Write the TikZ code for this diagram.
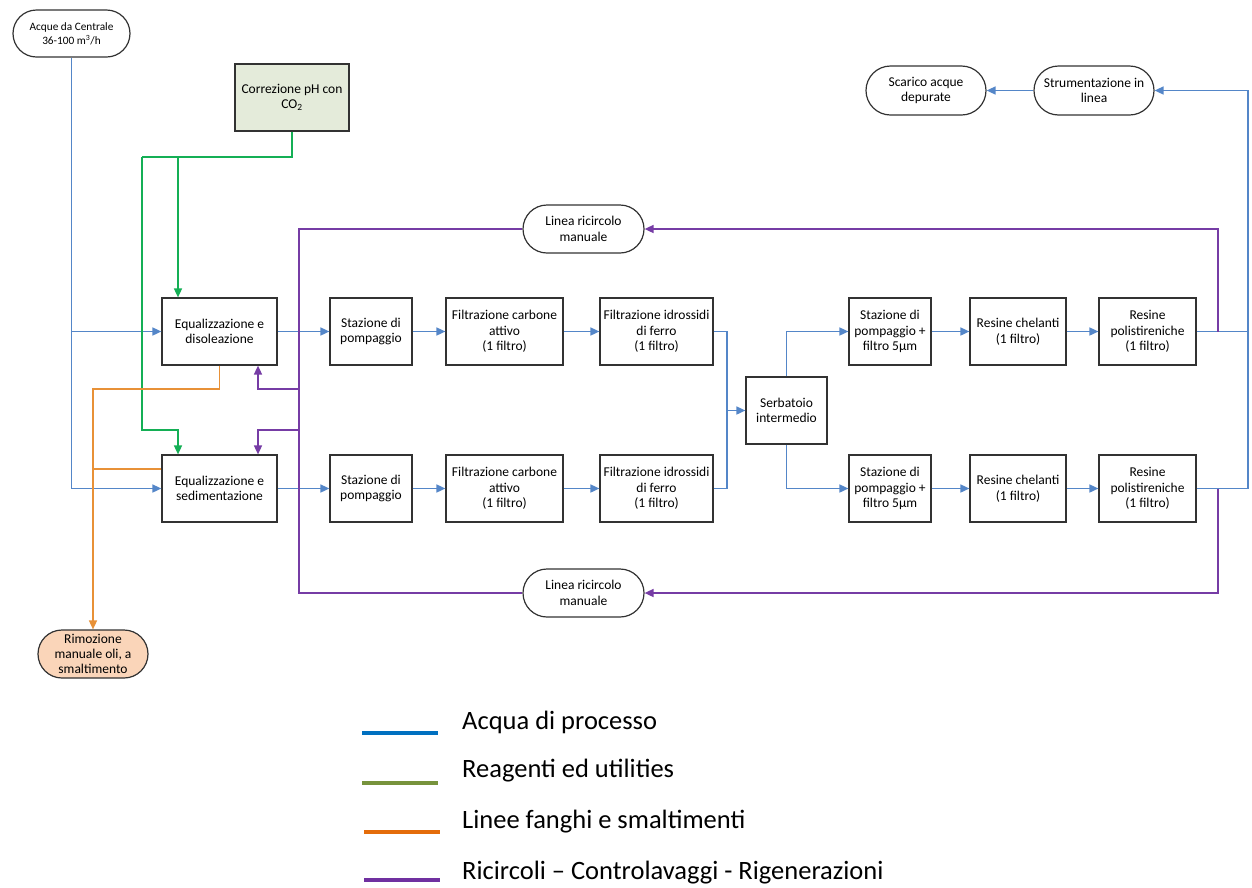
\documentclass[tikz,border=0pt]{standalone}
\usepackage{fontspec}
\setmainfont{Carlito}
\usetikzlibrary{arrows.meta,shapes.misc}
\definecolor{cblu}{RGB}{84,134,200}
\definecolor{cgrn}{RGB}{20,175,85}
\definecolor{corg}{RGB}{232,145,55}
\definecolor{cpur}{RGB}{118,60,165}
\definecolor{lblu}{RGB}{0,112,192}
\definecolor{lgrn}{RGB}{119,147,60}
\definecolor{lorg}{RGB}{228,108,10}
\definecolor{lpur}{RGB}{112,48,160}
\definecolor{fgrn}{RGB}{228,235,218}
\definecolor{forg}{RGB}{250,213,185}
\definecolor{edge}{RGB}{50,50,50}
\begin{document}
\begin{tikzpicture}[x=1pt,y=-1pt,
  box/.style={draw=edge,line width=1.2pt,minimum height=67,align=center,
    font=\fontsize{13.5}{15.5}\selectfont,inner sep=1pt},
  pill/.style={rounded rectangle,draw=edge,line width=1.2pt,align=center,
    font=\fontsize{13.5}{15.5}\selectfont,inner sep=1pt,minimum height=48},
  arr/.style={-{Triangle[length=9pt,width=8pt]}},
  ln/.style={line width=1.6pt},
  blu/.style={ln,draw=cblu,color=cblu},
  grn/.style={ln,draw=cgrn,color=cgrn},
  org/.style={ln,draw=corg,color=corg},
  pur/.style={ln,draw=cpur,color=cpur},
  leg/.style={line width=3.5pt},
  legtxt/.style={anchor=base west,font=\fontsize{26.5}{30}\selectfont,inner sep=0pt}
]
\useasboundingbox (0,0) rectangle (1252,887);

% nodes
\node[pill,minimum width=119,minimum height=47,font=\fontsize{11.3}{14}\selectfont] (acq) at (71.5,33.5) {Acque da Centrale\\36-100 m\textsuperscript{3}/h};
\node[box,fill=fgrn,minimum width=114] (cor) at (292,97.5) {Correzione pH con\\CO\textsubscript{2}};
\node[box,minimum width=115] (eqd) at (219.5,331.5) {Equalizzazione e\\disoleazione};
\node[box,minimum width=115] (eqs) at (219.5,488.5) {Equalizzazione e\\sedimentazione};
\node[box,minimum width=82] (st1) at (371,331.5) {Stazione di\\pompaggio};
\node[box,minimum width=82] (st2) at (371,488.5) {Stazione di\\pompaggio};
\node[box,minimum width=117] (fc1) at (504.5,331.5) {Filtrazione carbone\\attivo\\(1 filtro)};
\node[box,minimum width=117] (fc2) at (504.5,488.5) {Filtrazione carbone\\attivo\\(1 filtro)};
\node[box,minimum width=113] (fi1) at (656.5,331.5) {Filtrazione idrossidi\\di ferro\\(1 filtro)};
\node[box,minimum width=113] (fi2) at (656.5,488.5) {Filtrazione idrossidi\\di ferro\\(1 filtro)};
\node[box,minimum width=81] (serb) at (786.5,410.5) {Serbatoio\\intermedio};
\node[box,minimum width=82] (sp1) at (890,331.5) {Stazione di\\pompaggio +\\filtro 5µm};
\node[box,minimum width=82] (sp2) at (890,488.5) {Stazione di\\pompaggio +\\filtro 5µm};
\node[box,minimum width=96] (rc1) at (1018,331.5) {Resine chelanti\\(1 filtro)};
\node[box,minimum width=96] (rc2) at (1018,488.5) {Resine chelanti\\(1 filtro)};
\node[box,minimum width=97] (rp1) at (1147.5,331.5) {Resine\\polistireniche\\(1 filtro)};
\node[box,minimum width=97] (rp2) at (1147.5,488.5) {Resine\\polistireniche\\(1 filtro)};
\node[pill,minimum width=122,minimum height=49] (sca) at (926,90.5) {Scarico acque\\depurate};
\node[pill,minimum width=122,minimum height=49] (str) at (1094,90.5) {Strumentazione in\\linea};
\node[pill,minimum width=123] (lr1) at (583.5,229) {Linea ricircolo\\manuale};
\node[pill,minimum width=123] (lr2) at (583.5,593) {Linea ricircolo\\manuale};
\node[pill,fill=forg,minimum width=112,font=\fontsize{13.5}{15}\selectfont] (rim) at (93,654) {Rimozione\\manuale oli, a\\smaltimento};

% coordinates
\coordinate (j1) at (727,410.5);
\coordinate (r1) at (1248,90.5);
\coordinate (g1) at (142,157);
\coordinate (gx) at (178,157);
\coordinate (g2) at (142,430);
\coordinate (o1) at (93,389);
\coordinate (pt) at (1218,331.5);
\coordinate (pb) at (1218,488.5);
\coordinate (p3) at (299,593);
\coordinate (q1a) at (299,389);
\coordinate (q1) at (258,389);
\coordinate (q2a) at (299,430);
\coordinate (q2) at (258,430);

% blue process lines
\draw[blu,arr] (acq.south) |- (eqs.west);
\draw[blu,arr] (acq.south |- eqd.west) -- (eqd.west);
\draw[blu,arr] (eqd.east) -- (st1.west);
\draw[blu,arr] (eqs.east) -- (st2.west);
\draw[blu,arr] (st1.east) -- (fc1.west);
\draw[blu,arr] (st2.east) -- (fc2.west);
\draw[blu,arr] (fc1.east) -- (fi1.west);
\draw[blu,arr] (fc2.east) -- (fi2.west);
\draw[blu,arr] (fi1.east) -| (j1) -- (serb.west);
\draw[blu] (fi2.east) -| (j1);
\draw[blu,arr] (serb.north) |- (sp1.west);
\draw[blu,arr] (serb.south) |- (sp2.west);
\draw[blu,arr] (sp1.east) -- (rc1.west);
\draw[blu,arr] (sp2.east) -- (rc2.west);
\draw[blu,arr] (rc1.east) -- (rp1.west);
\draw[blu,arr] (rc2.east) -- (rp2.west);
\draw[blu,arr] (rp1.east) -| (r1) -- (str.east);
\draw[blu] (rp2.east) -| (r1);
\draw[blu,arr] (str.west) -- (sca.east);

% green reagent lines
\draw[grn] (cor.south) |- (g1);
\draw[grn,arr] (gx) -- (gx |- eqd.north);
\draw[grn,arr] (g1) -- (g2) -| (gx |- eqs.north);

% orange sludge lines
\draw[org,arr] (eqd.south) |- (o1) -- (rim.north);
\draw[org] ([yshift=19.5pt]eqs.west) -- ++(-69,0);

% purple recirculation lines
\draw[pur,arr] (pt) |- (lr1.east);
\draw[pur] (lr1.west) -| (p3) -- (lr2.west);
\draw[pur,arr] (pb) |- (lr2.east);
\draw[pur,arr] (q1a) -- (q1) -- (q1 |- eqd.south);
\draw[pur,arr] (q2a) -- (q2) -- (q2 |- eqs.north);

% legend
\coordinate (la1) at (362,733); \coordinate (lb1) at (438,733);
\coordinate (la2) at (362,783); \coordinate (lb2) at (438,783);
\coordinate (la3) at (364,832); \coordinate (lb3) at (440,832);
\coordinate (la4) at (364,880); \coordinate (lb4) at (440,880);
\draw[leg,lblu] (la1) -- (lb1);
\draw[leg,lgrn] (la2) -- (lb2);
\draw[leg,lorg] (la3) -- (lb3);
\draw[leg,lpur] (la4) -- (lb4);
\node[legtxt] (t1) at (462,729) {Acqua di processo};
\node[legtxt] (t2) at (462,777) {Reagenti ed utilities};
\node[legtxt] (t3) at (462,828) {Linee fanghi e smaltimenti};
\node[legtxt] (t4) at (462,879) {Ricircoli – Controlavaggi - Rigenerazioni};
\end{tikzpicture}
\end{document}
